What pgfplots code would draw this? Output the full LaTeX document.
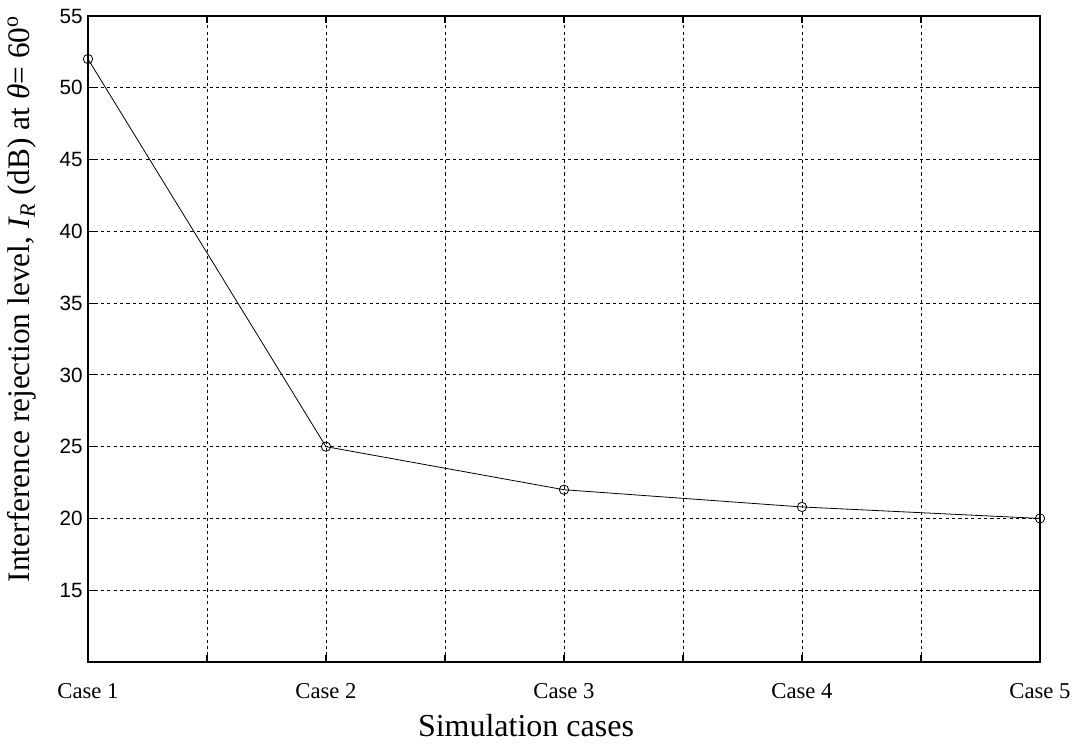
\documentclass[border=0pt]{standalone}
\usepackage{pgfplots}
\pgfplotsset{compat=1.18}
\usepackage{fontspec}
\setmainfont{Liberation Serif}
\setsansfont{Liberation Sans}
\begin{document}
\begin{tikzpicture}
\begin{axis}[
  scale only axis,
  width=714pt, height=484.5pt,
  xmin=1, xmax=5, ymin=10, ymax=55,
  xtick={1,1.5,2,2.5,3,3.5,4,4.5,5},
  xticklabels={Case 1,{},Case 2,{},Case 3,{},Case 4,{},Case 5},
  ytick={15,20,25,30,35,40,45,50,55},
  /pgf/number format/assume math mode=true,
  tick align=inside,
  major tick length=5pt,
  tick style={black, line width=0.8pt},
  axis line style={black, line width=0.9pt},
  grid=major,
  major grid style={black, line width=0.6pt, dash pattern=on 2.4pt off 2.4pt},
  yticklabel style={font=\sffamily\fontsize{15.5}{18}\selectfont, xshift=-0.5pt},
  xticklabel style={font=\fontsize{17}{20}\selectfont, yshift=-12.5pt},
  xlabel={Simulation cases},
  xlabel style={font=\fontsize{24}{28}\selectfont, at={(rel axis cs:0.5,0)}, anchor=base, xshift=-28.5pt, yshift=-56pt},
  ylabel={Interference rejection level, \textit{I}\textsubscript{\textit{R}} (dB) at \textit{θ}= 60\textsuperscript{o}},
  ylabel style={font=\fontsize{23.5}{27}\selectfont, at={(rel axis cs:0,0.5)}, anchor=base, xshift=30pt, yshift=43.5pt},
]
\addplot[black, line width=0.6pt, mark=o, mark size=3.5pt, mark options={line width=0.6pt}]
  coordinates {(1,52) (2,25) (3,22) (4,20.8) (5,20)};
\end{axis}
\pgfresetboundingbox
\useasboundingbox ([shift={(-66pt,-67.5pt)}]current axis.south west) rectangle ([shift={(27.75pt,12pt)}]current axis.north east);
\end{tikzpicture}
\end{document}
